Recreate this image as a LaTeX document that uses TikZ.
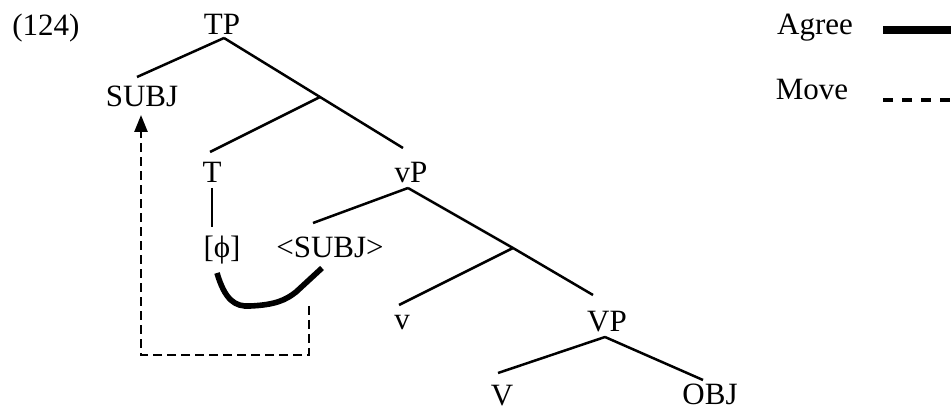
\documentclass[tikz,border=0pt]{standalone}
\usepackage{fontspec}
\setmainfont{Liberation Serif}
\usetikzlibrary{arrows.meta}
\begin{document}
\begin{tikzpicture}[x=0.5pt,y=-0.5pt,
  lbl/.style={anchor=base,inner sep=0pt,font=\fontsize{15.5}{18}\selectfont},
  branch/.style={line width=1.25pt},
  agree/.style={line width=2.8pt},
  move/.style={line width=1.25pt,dash pattern=on 4.5pt off 2.5pt},
  legmove/.style={line width=1.8pt,dash pattern=on 5pt off 4.5pt}]
\useasboundingbox (0,0) rectangle (951,410);
% labels
\node[lbl] (num) at (46,36) {(124)};
\node[lbl] (TP) at (222,35) {TP};
\node[lbl] (SUBJ) at (142,107) {SUBJ};
\node[lbl] (T) at (212,183) {T};
\node[lbl] (vP) at (411,183) {vP};
\node[lbl] (phi) at (222,258) {[\symbol{"03D5}]};
\node[lbl] (SUBJb) at (330,258) {<SUBJ>};
\node[lbl] (v) at (402,330) {v};
\node[lbl] (VP) at (607,332) {VP};
\node[lbl] (V) at (502,405) {V};
\node[lbl] (OBJ) at (710,404) {OBJ};
\node[lbl] (Agree) at (815,35) {Agree};
\node[lbl] (Move) at (812,100) {Move};
% branch points
\coordinate (I1) at (320,97);
\coordinate (I2) at (513,248);
% tree
\draw[branch] ([shift={(2,3)}]TP.base) -- ([shift={(-5,-30)}]SUBJ.base);
\draw[branch] ([shift={(2,3)}]TP.base) -- (I1) -- ([shift={(-8,-35)}]vP.base);
\draw[branch] (I1) -- ([shift={(-2,-31)}]T.base);
\draw[branch] ([shift={(0,5)}]T.base) -- ([shift={(-10,-31)}]phi.base);
\draw[branch] ([shift={(-3,5)}]vP.base) -- ([shift={(-17,-35)}]SUBJb.base);
\draw[branch] ([shift={(-3,5)}]vP.base) -- (I2) -- ([shift={(-14,-37)}]VP.base);
\draw[branch] (I2) -- ([shift={(-3,-25)}]v.base);
\draw[branch] ([shift={(-2,5)}]VP.base) -- ([shift={(-4,-32)}]V.base);
\draw[branch] ([shift={(-2,5)}]VP.base) -- ([shift={(-7,-24)}]OBJ.base);
% agree
\draw[agree] ([shift={(-5,15)}]phi.base) .. controls (225,300) and (235,307) .. (250,306)
  .. controls (275,305) and (286,300) .. (296,292) -- ([shift={(-8,10)}]SUBJb.base);
% move
\draw[move,-{Triangle[length=8.5pt,width=6.5pt]}] ([shift={(-21,48)}]SUBJb.base) -- ++(0,49) -| ([shift={(-1,8)}]SUBJ.base);
% legend
\coordinate (agreeR) at (951,30);
\coordinate (moveR) at (951,100);
\draw[line width=4pt] ([shift={(68,-5)}]Agree.base) -- (agreeR);
\draw[legmove] ([shift={(71,0)}]Move.base) -- (moveR);
\end{tikzpicture}
\end{document}
